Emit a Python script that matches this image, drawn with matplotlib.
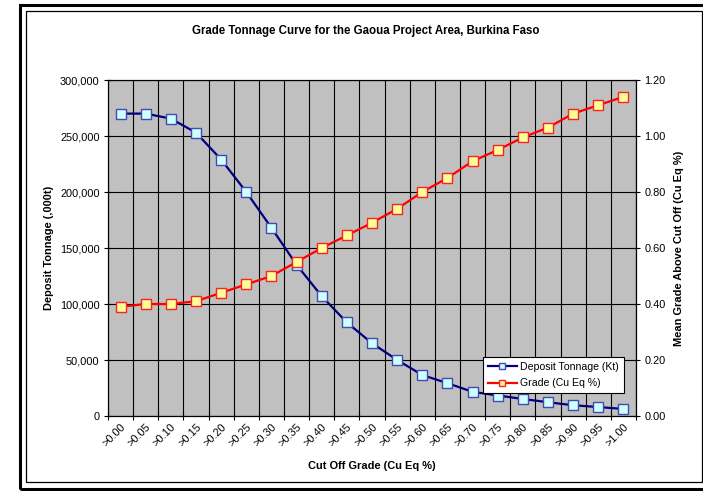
import numpy as np
import matplotlib
matplotlib.use("Agg")
import matplotlib.pyplot as plt
from matplotlib.patches import Rectangle
from matplotlib.ticker import FuncFormatter
from matplotlib.transforms import ScaledTranslation

plt.rcParams['font.family'] = ['Liberation Sans', 'DejaVu Sans']

# cut off grades (category labels)
cutoffs = [">0.00", ">0.05", ">0.10", ">0.15", ">0.20", ">0.25", ">0.30", ">0.35",
           ">0.40", ">0.45", ">0.50", ">0.55", ">0.60", ">0.65", ">0.70", ">0.75",
           ">0.80", ">0.85", ">0.90", ">0.95", ">1.00"]

# deposit tonnage, ,000t
tonnage = [270000, 270000, 265500, 253000, 229000, 200000, 168000, 135000,
           107000, 83500, 65000, 50000, 36600, 29300, 21600, 18300,
           15200, 12300, 9600, 8000, 6300]

# mean grade above cut off, Cu Eq %
grade = [0.39, 0.40, 0.40, 0.41, 0.44, 0.47, 0.50, 0.55, 0.60, 0.645, 0.69,
         0.74, 0.80, 0.85, 0.91, 0.95, 0.995, 1.03, 1.08, 1.11, 1.14]

W, H = 703, 491
fs = 7.9
fig = plt.figure(figsize=(W / 100, H / 100), dpi=100)

# chart area double border (excel style)
def px_rect(x0, y0, x1, y1, lw):
    return Rectangle((x0 / W, 1 - y1 / H), (x1 - x0) / W, (y1 - y0) / H,
                     transform=fig.transFigure, fill=False, edgecolor='black',
                     linewidth=lw, zorder=0)

fig.patches.append(px_rect(19.5, 4.5, 720, 489, 2.2))
fig.patches.append(px_rect(25.5, 10.5, 701.5, 482, 0.9))

# plot area in pixels
L, R, T, B = 108, 636, 80, 416
ax = fig.add_axes([L / W, 1 - B / H, (R - L) / W, (B - T) / H])
ax.set_facecolor('#C0C0C0')

x = np.arange(len(cutoffs))
ax.plot(x, tonnage, color='#000080', lw=1.6, marker='s', markersize=6.8,
        markerfacecolor='#CCFFFF', markeredgecolor='#4848B0', markeredgewidth=1.0,
        label='Deposit Tonnage (Kt)', zorder=3)

ax.set_xlim(-0.5, len(cutoffs) - 0.5)
ax.set_ylim(0, 300000)
ax.set_yticks(np.arange(0, 300001, 50000))
ax.yaxis.set_major_formatter(FuncFormatter(lambda v, p: f"{int(v):,}"))

# grid lines and ticks at category boundaries, labels at centres
ax.set_xticks(np.arange(-0.5, len(cutoffs), 1.0))
ax.set_xticklabels([])
ax.set_xticks(x, minor=True)
ax.set_xticklabels(cutoffs, minor=True, rotation=45, ha='right', va='top',
                   rotation_mode='anchor', fontsize=fs)
shift = ScaledTranslation(-4 / 100, 0, fig.dpi_scale_trans)
for lab in ax.get_xticklabels(minor=True):
    lab.set_transform(lab.get_transform() + shift)
ax.tick_params(axis='x', which='minor', length=0, pad=4)
ax.tick_params(axis='x', which='major', direction='inout', length=6, width=0.8)
ax.tick_params(axis='y', direction='inout', length=6, width=0.8, labelsize=fs, pad=3)
ax.grid(True, which='major', color='black', lw=0.8)
ax.set_axisbelow(True)
for s in ax.spines.values():
    s.set_linewidth(0.8)

ax.set_xlabel('Cut Off Grade (Cu Eq %)', fontsize=fs, fontweight='bold', labelpad=9)
ax.set_ylabel('Deposit Tonnage (,000t)', fontsize=fs, fontweight='bold', labelpad=4)

ax2 = ax.twinx()
ax2.plot(x, grade, color='#FF0000', lw=1.6, marker='s', markersize=6.8,
         markerfacecolor='#FFFF99', markeredgecolor='#FF2020', markeredgewidth=1.0,
         label='Grade (Cu Eq %)', zorder=4)
ax2.set_ylim(0, 1.2)
ax2.set_yticks(np.arange(0, 1.21, 0.2))
ax2.yaxis.set_major_formatter(FuncFormatter(lambda v, p: f"{v:.2f}"))
ax2.tick_params(axis='y', direction='inout', length=6, width=0.8, labelsize=fs, pad=3)
ax2.set_ylabel('Mean Grade Above Cut Off (Cu Eq %)', fontsize=fs, fontweight='bold',
               labelpad=6)

h1, l1 = ax.get_legend_handles_labels()
h2, l2 = ax2.get_legend_handles_labels()
leg = ax2.legend(h1 + h2, l1 + l2, loc='lower right', bbox_to_anchor=(0.977, 0.068),
                 borderaxespad=0, fontsize=7.6, frameon=True, fancybox=False,
                 edgecolor='black', framealpha=1, handlelength=2.8, borderpad=0.45,
                 labelspacing=0.6, handletextpad=0.3, markerscale=0.6)
leg.get_frame().set_linewidth(0.8)

fig.text(366 / W, 1 - 31 / H, 'Grade Tonnage Curve for the Gaoua Project Area, Burkina Faso',
         ha='center', va='center', fontsize=8.3, fontweight='bold')

fig.savefig('out.png', dpi=100)
